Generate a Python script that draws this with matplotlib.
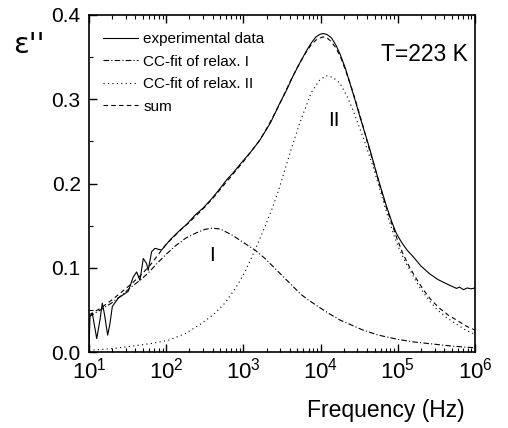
import numpy as np
import matplotlib
matplotlib.use("Agg")
import matplotlib.pyplot as plt
from matplotlib.ticker import LogLocator, MultipleLocator, NullFormatter

plt.rcParams["font.family"] = ["Liberation Sans", "DejaVu Sans"]
plt.rcParams["mathtext.fontset"] = "custom"
plt.rcParams["mathtext.rm"] = "Liberation Sans"
plt.rcParams["mathtext.default"] = "regular"

# ----------------------------
# data (log10 of frequency in Hz, eps'')
# ----------------------------

exp_logf = [1.000, 1.013, 1.043, 1.100, 1.142, 1.172, 1.198, 1.242, 1.272, 1.302,
            1.379, 1.508, 1.573, 1.617, 1.660, 1.703, 1.746, 1.767, 1.811, 1.854,
            1.940, 2.05, 2.16, 2.27, 2.38, 2.48, 2.59, 2.68, 2.78, 2.87,
            2.95, 3.10, 3.21, 3.35, 3.47, 3.56, 3.64, 3.73, 3.82, 3.88,
            3.94, 3.99, 4.03, 4.08, 4.14, 4.20, 4.25, 4.32, 4.38, 4.45,
            4.51, 4.58, 4.64, 4.70, 4.77, 4.85, 4.92, 4.98, 5.05, 5.12,
            5.20, 5.30, 5.41, 5.52, 5.63, 5.70, 5.76, 5.80, 5.85, 5.90,
            5.95, 6.00]
exp_eps = [0.004, 0.042, 0.046, 0.016, 0.038, 0.058, 0.046, 0.020, 0.034, 0.054,
           0.064, 0.072, 0.089, 0.095, 0.085, 0.111, 0.105, 0.097, 0.119, 0.123,
           0.121, 0.133, 0.143, 0.152, 0.163, 0.171, 0.182, 0.192, 0.204, 0.213,
           0.222, 0.238, 0.251, 0.272, 0.295, 0.311, 0.327, 0.343, 0.358, 0.367,
           0.374, 0.377, 0.378, 0.377, 0.373, 0.364, 0.354, 0.337, 0.319, 0.298,
           0.279, 0.258, 0.240, 0.220, 0.198, 0.174, 0.155, 0.141, 0.130, 0.121,
           0.113, 0.102, 0.093, 0.086, 0.081, 0.078, 0.0755, 0.077, 0.074, 0.076,
           0.075, 0.076]

relax1_logf = [1.0, 1.15, 1.29, 1.42, 1.55, 1.66, 1.77, 1.88, 2.0, 2.12,
               2.25, 2.38, 2.5, 2.59, 2.7, 2.85, 3.0, 3.15, 3.28, 3.4,
               3.51, 3.63, 3.75, 3.87, 4.0, 4.12, 4.25, 4.4, 4.55, 4.75,
               5.0, 5.2, 5.4, 5.7, 6.0]
relax1_eps = [0.042, 0.050, 0.058, 0.067, 0.0775, 0.085, 0.094, 0.105, 0.116, 0.126,
              0.135, 0.141, 0.1455, 0.147, 0.146, 0.139, 0.130, 0.121, 0.111, 0.100,
              0.090, 0.079, 0.068, 0.060, 0.052, 0.045, 0.038, 0.032, 0.026, 0.020,
              0.015, 0.012, 0.010, 0.007, 0.005]

relax2_logf = [1.0, 1.3, 1.6, 1.8, 2.03, 2.25, 2.46, 2.62, 2.76, 2.9,
               3.02, 3.15, 3.28, 3.38, 3.47, 3.6, 3.73, 3.88, 3.98, 4.07,
               4.16, 4.25, 4.34, 4.42, 4.55, 4.68, 4.76, 4.85, 4.94, 5.02,
               5.11, 5.2, 5.28, 5.4, 5.5, 5.63, 5.76, 5.88, 6.0]
relax2_eps = [0.002, 0.004, 0.0075, 0.010, 0.014, 0.022, 0.034, 0.045, 0.058, 0.076,
              0.095, 0.121, 0.149, 0.172, 0.196, 0.235, 0.272, 0.308, 0.322, 0.328,
              0.326, 0.319, 0.304, 0.287, 0.255, 0.220, 0.195, 0.167, 0.141, 0.122,
              0.105, 0.090, 0.077, 0.062, 0.051, 0.041, 0.033, 0.026, 0.021]

sum_logf = [1.0, 1.15, 1.3, 1.42, 1.55, 1.68, 1.8, 1.9, 2.0, 2.1,
            2.2, 2.3, 2.4, 2.5, 2.6, 2.7, 2.8, 2.9, 3.0, 3.1,
            3.2, 3.3, 3.4, 3.5, 3.6, 3.7, 3.8, 3.88, 3.95, 4.03,
            4.08, 4.12, 4.19, 4.25, 4.32, 4.4, 4.47, 4.55, 4.62, 4.7,
            4.77, 4.85, 4.92, 4.98, 5.06, 5.15, 5.24, 5.33, 5.43, 5.54,
            5.65, 5.76, 5.88, 6.0]
sum_eps = [0.044, 0.052, 0.062, 0.071, 0.081, 0.092, 0.104, 0.116, 0.128, 0.137,
           0.146, 0.154, 0.163, 0.172, 0.182, 0.193, 0.204, 0.215, 0.226, 0.238,
           0.250, 0.265, 0.282, 0.300, 0.320, 0.338, 0.354, 0.365, 0.371, 0.374,
           0.373, 0.370, 0.362, 0.352, 0.335, 0.314, 0.293, 0.268, 0.244, 0.220,
           0.196, 0.172, 0.153, 0.137, 0.118, 0.101, 0.087, 0.074, 0.062, 0.052,
           0.044, 0.038, 0.031, 0.026]

labels = ["experimental data", "CC-fit of relax. I", "CC-fit of relax. II", "sum"]


# ----------------------------
# plot
# ----------------------------

W, H = 508, 428
fig = plt.figure(figsize=(W / 100, H / 100), dpi=100)
ax = fig.add_axes([89 / W, 1 - 352 / H, (475 - 89) / W, (352 - 15) / H])

lw = 0.8
ax.plot(10 ** np.array(exp_logf), exp_eps, color="black", lw=lw, label=labels[0])
ax.plot(10 ** np.array(relax1_logf), relax1_eps, color="black", lw=lw,
        linestyle=(0, (5, 2, 1, 2)), label=labels[1])
ax.plot(10 ** np.array(relax2_logf), relax2_eps, color="black", lw=lw,
        linestyle=(0, (1, 3)), label=labels[2])
ax.plot(10 ** np.array(sum_logf), sum_eps, color="black", lw=lw,
        linestyle=(0, (4, 3)), label=labels[3])

ax.set_xscale("log")
ax.set_xlim(10, 1e6)
ax.set_ylim(0, 0.4)
ax.set_yticks([0.0, 0.1, 0.2, 0.3, 0.4])
ax.set_yticklabels(["0.0", "0.1", "0.2", "0.3", "0.4"])
ax.yaxis.set_minor_locator(MultipleLocator(0.05))
ax.xaxis.set_major_locator(LogLocator(base=10, numticks=10))
ax.xaxis.set_minor_locator(LogLocator(base=10, subs=np.arange(2, 10), numticks=20))
ax.xaxis.set_minor_formatter(NullFormatter())

for s in ax.spines.values():
    s.set_linewidth(1.2)

ax.tick_params(axis="x", which="both", direction="in", top=True, bottom=True,
               labelsize=16, pad=4)
ax.tick_params(axis="y", which="both", direction="in", left=True, right=False,
               labelsize=15, pad=6)
ax.tick_params(which="major", length=6, width=1.0)
ax.tick_params(which="minor", length=3, width=0.8)

leg = ax.legend(loc="upper left", bbox_to_anchor=(103 / W, 1 - 32 / H),
                bbox_transform=fig.transFigure, frameon=False, fontsize=11,
                handlelength=2.3, handletextpad=0.35, labelspacing=0.56,
                borderpad=0, borderaxespad=0)

ax.text(0.870, 0.884, "T=223 K", transform=ax.transAxes, fontsize=16.5,
        ha="center", va="center")
ax.text(390, 0.115, "I", fontsize=15, ha="center", va="center")
ax.text(14800, 0.275, "II", fontsize=15, ha="center", va="center")

fig.text(29 / W, 1 - 45 / H, "ε''", fontsize=21, ha="center", va="center",
         family=["DejaVu Sans"])
fig.text(386 / W, 1 - 410 / H, "Frequency (Hz)", fontsize=16.5,
         ha="center", va="center")

fig.savefig("out.png", dpi=100)
